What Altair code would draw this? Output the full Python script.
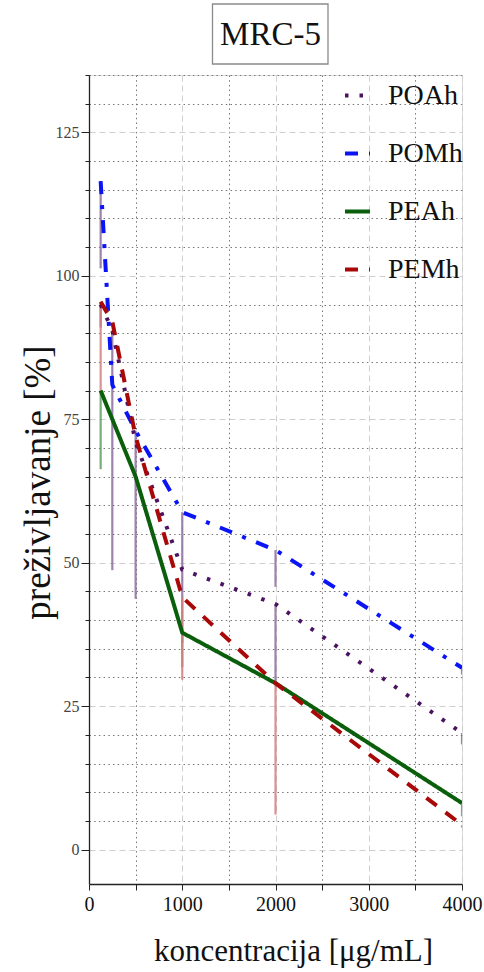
import altair as alt
import pandas as pd

# ---- data ----
conc = [125, 250, 500, 1000, 2000, 4000]
series_names = ["POAh", "POMh", "PEAh", "PEMh"]
POAh = [95.0, 90.5, 71.0, 48.8, 42.8, 20.3]
POMh = [116.5, 81.0, 73.0, 58.8, 52.2, 31.7]
PEAh = [80.0, 75.0, 65.0, 37.8, 29.0, 8.1]
PEMh = [95.5, 92.0, 72.0, 44.0, 29.0, 4.3]
# lower ends of the (one-sided) error bars
POAh_low = [91.0, 48.7, 71.0, 48.8, 29.5, 18.3]
POMh_low = [101.3, 81.0, 43.7, 36.0, 45.8, 30.5]
PEAh_low = [66.3, 75.0, 65.0, 31.8, 29.0, 5.8]
PEMh_low = [80.0, 92.0, 72.0, 29.6, 6.1, 3.8]

line_colors = ["#4B1260", "#0A14F5", "#0B5E0B", "#A80808"]
bar_colors = ["#8C6C9C", "#8C6C9C", "#5FA05F", "#D47F7F"]
dashes = [[3.5, 11], [13, 11, 4, 11], [1, 0], [13, 11]]

title_text = ["MRC-5"]
x_title = "koncentracija [μg/mL]"
y_title = "preživljavanje [%]"

means = [POAh, POMh, PEAh, PEMh]
lows = [POAh_low, POMh_low, PEAh_low, PEMh_low]
rows = []
for s, m, lo, bc in zip(series_names, means, lows, bar_colors):
    for c, v, l in zip(conc, m, lo):
        rows.append({"series": s, "conc": c, "mean": v, "low": l, "ecol": bc})
df = pd.DataFrame(rows)

FONT = "Liberation Serif"

x_axis = alt.Axis(
    title=x_title,
    values=list(range(0, 4001, 500)),
    labelExpr="datum.value % 1000 === 0 ? datum.label : ''",
    format="d",
    labelOverlap=False,
    labelFlush=False,
    labelFont=FONT,
    labelFontSize=20,
    labelColor="#111",
    labelPadding=4,
    tickSize=6,
    tickColor="#222",
    domainColor="#222",
    domainWidth=1.3,
    grid=True,
    gridColor={"condition": {"test": "datum.value % 1000 === 0", "value": "#cfcfcf"}, "value": "#777777"},
    gridDash={"condition": {"test": "datum.value % 1000 === 0", "value": [6, 4]}, "value": [1.5, 3.2]},
    gridWidth=1,
    titleFont=FONT,
    titleFontSize=31,
    titleFontWeight="normal",
    titleColor="#111",
    titleX=204,
    titleY=76,
    titleBaseline="alphabetic",
    titleAlign="center",
)

y_axis = alt.Axis(
    title=y_title,
    values=list(range(0, 136, 5)),
    labelExpr="datum.value % 25 === 0 ? datum.label : ''",
    labelOverlap=False,
    labelFont=FONT,
    labelFontSize=16,
    labelColor="#444",
    labelPadding=2,
    tickSize={"condition": {"test": "datum.value % 25 === 0", "value": 8}, "value": 4},
    tickColor="#222",
    domainColor="#222",
    domainWidth=1.3,
    grid=True,
    gridColor={"condition": {"test": "datum.value % 25 === 0", "value": "#cfcfcf"}, "value": "#777777"},
    gridDash={"condition": {"test": "datum.value % 25 === 0", "value": [6, 4]}, "value": [1.5, 3.2]},
    gridWidth=1,
    titleFont=FONT,
    titleFontSize=37,
    titleFontWeight="normal",
    titleColor="#111",
    titleX=-51,
    titleY=407,
    titleBaseline="middle",
    titleAlign="center",
    titleAngle=-90,
)

x_enc = alt.X("conc:Q", scale=alt.Scale(domain=[0, 4000], nice=False, zero=False), axis=x_axis)
y_enc = alt.Y("mean:Q", scale=alt.Scale(domain=[-6, 135], nice=False, zero=False), axis=y_axis)

legend = alt.Legend(
    title=None,
    orient="none",
    legendX=254,
    legendY=6,
    labelFont=FONT,
    labelFontSize=28,
    labelColor="#111",
    labelOffset=16,
    symbolType="stroke",
    symbolSize=625,
    symbolStrokeWidth=4,
    rowPadding=29,
)

bars = alt.Chart(df).mark_rule(strokeWidth=2.2, opacity=0.85, clip=True).encode(
    x=x_enc,
    y=y_enc,
    y2="low:Q",
    stroke=alt.Stroke("ecol:N", scale=None),
)

lines = alt.Chart(df).mark_line(strokeWidth=4, strokeCap="butt", clip=True).encode(
    x=x_enc,
    y=y_enc,
    color=alt.Color("series:N", scale=alt.Scale(domain=series_names, range=line_colors),
                    sort=series_names, legend=legend),
    strokeDash=alt.StrokeDash("series:N", scale=alt.Scale(domain=series_names, range=dashes),
                              sort=series_names, legend=legend),
)

tdf = pd.DataFrame({"t": title_text})
box = alt.Chart(tdf).mark_rect(fill="white", stroke="#8a8a8a", strokeWidth=1.3).encode(
    x=alt.value(123.5), x2=alt.value(239), y=alt.value(-71), y2=alt.value(-11)
)
ttext = alt.Chart(tdf).mark_text(font=FONT, fontSize=33, align="center", baseline="middle", color="#111").encode(
    text="t:N", x=alt.value(181.5), y=alt.value(-40)
)

chart = alt.layer(bars, lines, box, ttext).properties(
    width=373,
    height=809,
    autosize=alt.AutoSizeParams(type="none"),
    padding={"left": 89, "top": 75, "right": 22, "bottom": 88},
).configure_view(fill="#F1EDE0", stroke=None).configure(background="white")

chart.save("out.html", embed_options={"renderer": "svg", "actions": False})
